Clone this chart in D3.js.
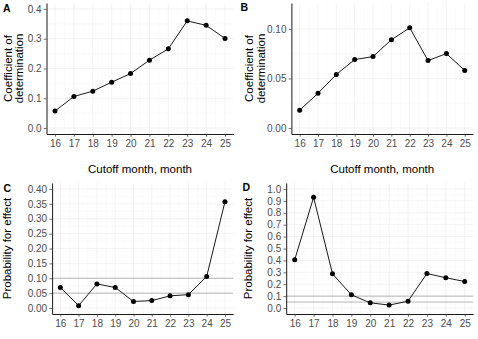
<!DOCTYPE html>
<html>
<head>
<meta charset="utf-8">
<script src="https://cdn.jsdelivr.net/npm/d3@7"></script>
<style>
  body { margin: 0; background: #fff; }
  svg { display: block; font-family: "Liberation Sans", Arial, sans-serif; }
</style>
</head>
<body>
<svg id="chart" width="478" height="339"></svg>
<script>
// Data.
const months = [16, 17, 18, 19, 20, 21, 22, 23, 24, 25];
const r2A = [0.057, 0.106, 0.124, 0.154, 0.183, 0.228, 0.266, 0.360, 0.345, 0.301];
const r2B = [0.018, 0.035, 0.054, 0.069, 0.072, 0.089, 0.101, 0.068, 0.075, 0.058];
const probC = [0.069, 0.008, 0.081, 0.069, 0.022, 0.025, 0.041, 0.045, 0.106, 0.357];
const probD = [0.405, 0.930, 0.288, 0.111, 0.044, 0.025, 0.057, 0.290, 0.254, 0.223];
const thresholds = [0.05, 0.10];

const yTicksA = [0, 0.1, 0.2, 0.3, 0.4];
const yTicksB = [0, 0.05, 0.10];
const yTicksC = [0, 0.05, 0.10, 0.15, 0.20, 0.25, 0.30, 0.35, 0.40];
const yTicksD = [0, 0.1, 0.2, 0.3, 0.4, 0.5, 0.6, 0.7, 0.8, 0.9, 1.0];

const svg = d3.select('#chart');

// Panel layout (pixel boxes and limits as in the ggplot output).
const panels = [
  { label: 'A', values: r2A, ticks: yTicksA, fmt: '.1f', ydom: [-0.02, 0.42],
    x0: 46.5, x1: 233.5, y0: 134, y1: 3, lab: [3, 11.7],
    ytitle: ['Coefficient of', 'determination'], ytx: [11.5, 23], xtitle: 'Cutoff month, month' },
  { label: 'B', values: r2B, ticks: yTicksB, fmt: '.2f', ydom: [-0.006, 0.126],
    x0: 291.4, x1: 473, y0: 134, y1: 3, lab: [240.5, 11.2],
    ytitle: ['Coefficient of', 'determination'], ytx: [253, 265], xtitle: 'Cutoff month, month' },
  { label: 'C', values: probC, ticks: yTicksC, fmt: '.2f', ydom: [-0.02, 0.42],
    x0: 52.1, x1: 233.2, y0: 314, y1: 183, lab: [3.5, 191.5],
    ytitle: ['Probability for effect'], ytx: [10.5], hlines: thresholds },
  { label: 'D', values: probD, ticks: yTicksD, fmt: '.1f', ydom: [-0.05, 1.05],
    x0: 286.2, x1: 473.2, y0: 314, y1: 183, lab: [242.5, 190.7],
    ytitle: ['Probability for effect'], ytx: [252.3], hlines: thresholds }
];

panels.forEach(function(p) {
  var x = d3.scaleLinear().domain([15.55, 25.45]).range([p.x0, p.x1]);
  var y = d3.scaleLinear().domain(p.ydom).range([p.y0, p.y1]);
  var g = svg.append('g');

  // Grid: minor first, then major.
  var minorX = months.slice(0, -1).map(m => m + 0.5);
  var minorY = p.ticks.slice(0, -1).map((t, i) => (t + p.ticks[i + 1]) / 2);
  g.selectAll('.mx').data(minorX).join('line')
    .attr('x1', d => x(d)).attr('x2', d => x(d)).attr('y1', p.y0).attr('y2', p.y1)
    .attr('stroke', '#f6f6f6').attr('stroke-width', 0.5);
  g.selectAll('.my').data(minorY).join('line')
    .attr('x1', p.x0).attr('x2', p.x1).attr('y1', d => y(d)).attr('y2', d => y(d))
    .attr('stroke', '#f6f6f6').attr('stroke-width', 0.5);
  g.selectAll('.gx').data(months).join('line')
    .attr('x1', d => x(d)).attr('x2', d => x(d)).attr('y1', p.y0).attr('y2', p.y1)
    .attr('stroke', '#eeeeee').attr('stroke-width', 0.7);
  g.selectAll('.gy').data(p.ticks).join('line')
    .attr('x1', p.x0).attr('x2', p.x1).attr('y1', d => y(d)).attr('y2', d => y(d))
    .attr('stroke', '#eeeeee').attr('stroke-width', 0.7);

  // Reference lines for probability panels.
  if (p.hlines) {
    g.selectAll('.hl').data(p.hlines).join('line')
      .attr('x1', p.x0).attr('x2', p.x1).attr('y1', d => y(d)).attr('y2', d => y(d))
      .attr('stroke', '#8a8a8a').attr('stroke-width', 0.6);
  }

  // Line and points.
  var pts = months.map((m, i) => [m, p.values[i]]);
  g.append('path').datum(pts)
    .attr('fill', 'none').attr('stroke', '#1a1a1a').attr('stroke-width', 1)
    .attr('d', d3.line().x(d => x(d[0])).y(d => y(d[1])));
  g.selectAll('.pt').data(pts).join('circle')
    .attr('cx', d => x(d[0])).attr('cy', d => y(d[1])).attr('r', 2.5)
    .attr('fill', '#000');

  // Axes.
  var ax = g.append('g').attr('transform', 'translate(0,' + p.y0 + ')')
    .call(d3.axisBottom(x).tickValues(months).tickFormat(d3.format('d'))
      .tickSize(2.75).tickSizeOuter(0).tickPadding(3));
  var ay = g.append('g').attr('transform', 'translate(' + p.x0 + ',0)')
    .call(d3.axisLeft(y).tickValues(p.ticks).tickFormat(d3.format(p.fmt))
      .tickSize(2.75).tickSizeOuter(0).tickPadding(2.2));
  [ax, ay].forEach(function(a) {
    a.select('.domain').attr('stroke', '#000').attr('stroke-width', 0.9);
    a.selectAll('.tick line').attr('stroke', '#333').attr('stroke-width', 0.7);
    a.selectAll('.tick text').attr('fill', '#4d4d4d')
      .style('font-size', '10px').style('font-family', '"Liberation Sans", Arial, sans-serif');
  });

  // Titles.
  p.ytitle.forEach(function(t, i) {
    g.append('text')
      .attr('transform', 'translate(' + p.ytx[i] + ',' + ((p.y0 + p.y1) / 2) + ') rotate(-90)')
      .attr('text-anchor', 'middle').attr('font-size', '11.5px').attr('fill', '#000')
      .text(t);
  });
  if (p.xtitle) {
    g.append('text')
      .attr('x', (p.x0 + p.x1) / 2).attr('y', 172.5)
      .attr('text-anchor', 'middle').attr('font-size', '11.5px').attr('fill', '#000')
      .text(p.xtitle);
  }
  g.append('text')
    .attr('x', p.lab[0]).attr('y', p.lab[1])
    .attr('font-size', '10.5px').attr('font-weight', 'bold').attr('fill', '#000')
    .text(p.label);
});
</script>
</body>
</html>
